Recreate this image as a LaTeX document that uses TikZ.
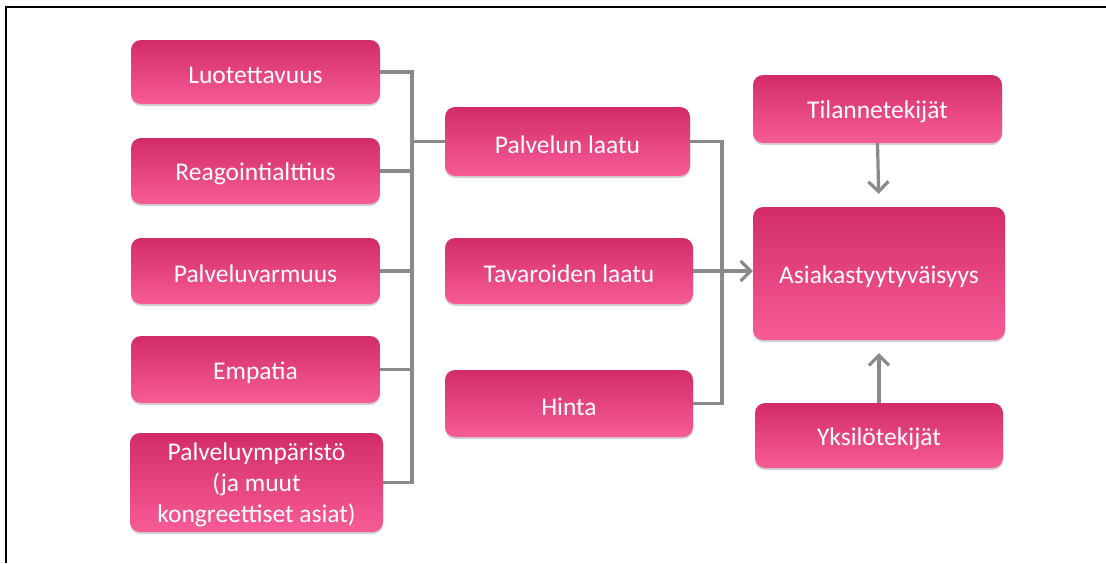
\documentclass[tikz,border=0pt]{standalone}
\usepackage{fontspec}
\setmainfont{Carlito}
\usetikzlibrary{arrows.meta,shadows}
\definecolor{boxtop}{RGB}{210,44,104}
\definecolor{boxbot}{RGB}{247,92,150}
\definecolor{linegray}{RGB}{138,138,138}
\newcommand\lowtxt[1]{\raisebox{-3pt}[\height][\depth]{#1}}
\tikzset{
  pbox/.style={rectangle, rounded corners=10pt, top color=boxtop, bottom color=boxbot,
    draw=none, text=white, align=center, inner sep=2pt,
    font=\fontsize{25.5}{31}\selectfont,
    drop shadow={opacity=0.35, shadow xshift=0pt, shadow yshift=-2pt}},
  conn/.style={draw=linegray, line width=3.2pt},
  arr/.style={conn, -{Straight Barb[length=10pt,width=20pt,line width=3.2pt]}}
}
\begin{document}
\begin{tikzpicture}[x=1pt,y=-1pt]
\useasboundingbox (0,0) rectangle (1106,563);
\draw[line width=2pt, black] (1106,7) -- (6,7) -- (6,563);
% left column
\node[pbox, minimum width=249pt, minimum height=64pt] (L1) at (255.5,72) {\lowtxt{Luotettavuus}};
\node[pbox, minimum width=249pt, minimum height=66pt] (L2) at (255.5,171) {\lowtxt{Reagointialttius}};
\node[pbox, minimum width=249pt, minimum height=66pt] (L3) at (255.5,271) {\lowtxt{Palveluvarmuus}};
\node[pbox, minimum width=249pt, minimum height=67pt] (L4) at (255.5,369.5) {\lowtxt{Empatia}};
\node[pbox, minimum width=253pt, minimum height=99pt] (L5) at (256.5,482.5) {\lowtxt{\begin{tabular}{@{}c@{}}Palveluympäristö\\(ja muut\\kongreettiset asiat)\end{tabular}}};
% middle column
\node[pbox, minimum width=245pt, minimum height=69pt] (M1) at (567.5,141.5) {\lowtxt{Palvelun laatu}};
\node[pbox, minimum width=248pt, minimum height=66pt] (M2) at (569,271) {\lowtxt{Tavaroiden laatu}};
\node[pbox, minimum width=248pt, minimum height=67pt] (M3) at (569,403.5) {\lowtxt{Hinta}};
% right column
\node[pbox, minimum width=249pt, minimum height=68pt] (R1) at (877.5,109) {\lowtxt{Tilannetekijät}};
\node[pbox, minimum width=252pt, minimum height=133pt] (R2) at (879,273.5) {\lowtxt{Asiakastyytyväisyys}};
\node[pbox, minimum width=248pt, minimum height=65pt] (R3) at (879,435.5) {\lowtxt{Yksilötekijät}};
% buses
\coordinate (bus) at (412,0);
\coordinate (bus2) at (722,0);
\draw[conn] (L1.east) -- (L1.east -| bus) -- (L5.east -| bus) -- (L5.east);
\draw[conn] (L2.east) -- (L2.east -| bus);
\draw[conn] (L3.east) -- (L3.east -| bus);
\draw[conn] (L4.east) -- (L4.east -| bus);
\draw[conn] (M1.west -| bus) -- (M1.west);
\draw[conn] (M1.east) -- (M1.east -| bus2) -- (M3.east -| bus2) -- (M3.east);
\draw[arr] (M2.east) -- (M2.east -| R2.west);
\draw[arr, shorten >=13pt] (R1.south) -- (R2.north);
\draw[arr, shorten >=13pt] (R3.north) -- (R2.south);
\end{tikzpicture}
\end{document}
